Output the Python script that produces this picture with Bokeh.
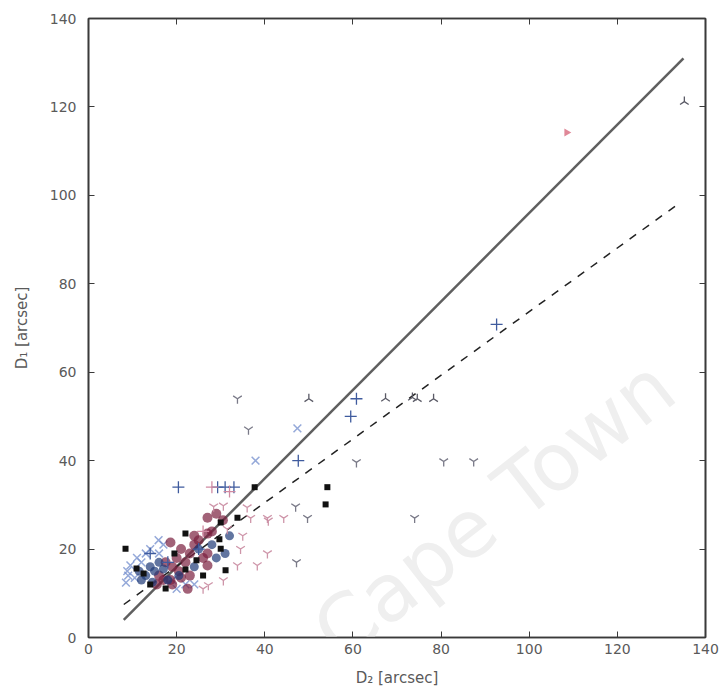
import math
from bokeh.plotting import figure
from bokeh.models import LinearAxis, Range1d, FixedTicker, Label
from bokeh.embed import file_html
from bokeh.resources import INLINE

# ---------------- data ----------------
black_x = [8.4, 10.9, 17.5, 30.0, 29.7, 30.0, 31.1, 33.8, 37.7, 54.2, 53.8, 22.0, 22.0, 14.0, 19.5, 26.0, 12.5, 24.5]
black_y = [20.1, 15.6, 11.1, 26.0, 22.2, 20.1, 15.2, 27.1, 34.0, 34.0, 30.1, 23.5, 15.4, 12.0, 19.0, 14.0, 14.5, 17.5]

maroon_x = [27.0, 27.0, 27.0, 27.0, 18.6, 18.6, 19.0, 21.0, 22.0, 23.0, 24.0, 25.0, 20.0, 17.0, 16.0, 15.5, 19.0, 21.0, 23.0, 26.0, 28.0, 20.5, 22.5, 17.5, 24.0, 29.0, 30.5]
maroon_y = [27.1, 23.5, 19.0, 16.3, 21.5, 13.0, 12.0, 13.5, 17.0, 19.0, 21.0, 22.0, 18.0, 13.0, 14.0, 12.0, 16.0, 20.0, 14.0, 18.0, 24.0, 15.0, 11.0, 17.0, 23.0, 28.0, 26.5]

navy_x = [13.0, 14.0, 15.0, 16.0, 12.0, 18.0, 25.0, 28.0, 31.0, 32.0, 29.0, 24.0, 14.5, 17.0, 11.5, 20.5]
navy_y = [14.0, 16.0, 15.0, 17.0, 13.0, 13.0, 20.0, 21.0, 19.0, 23.0, 18.0, 16.0, 12.5, 15.5, 15.0, 14.0]

xmark_x = [8.5, 9.0, 9.5, 8.8, 15.9, 17.0, 13.0, 12.0, 14.0, 16.0, 19.0, 20.0, 22.0, 37.9, 47.4, 24.0, 10.5, 11.0]
xmark_y = [12.4, 14.0, 16.3, 15.0, 22.0, 21.0, 19.0, 17.0, 20.0, 19.0, 13.0, 11.0, 12.0, 40.0, 47.3, 12.0, 13.5, 18.0]

plus_x = [20.4, 29.3, 31.0, 33.0, 47.6, 59.5, 60.8, 92.6, 14.0, 25.0, 18.0]
plus_y = [34.0, 34.0, 34.0, 34.0, 40.0, 50.0, 54.0, 70.8, 19.0, 20.0, 17.0]

pinkplus_x = [28.0, 32.0, 26.0]
pinkplus_y = [34.0, 33.0, 24.0]

pinktri_x = [34.5, 40.8, 40.6, 27.2, 30.6, 33.8, 38.3, 30.6, 28.4, 36.8, 40.6, 44.3, 36.0, 26.0, 35.0, 31.5]
pinktri_y = [20.0, 26.4, 19.0, 11.8, 12.9, 16.3, 16.3, 29.8, 29.6, 27.0, 27.0, 27.0, 29.4, 11.0, 23.0, 24.5]

graydown_x = [33.8, 36.3, 80.6, 87.4, 60.8, 74.0, 47.0, 47.2, 49.7]
graydown_y = [54.0, 47.0, 39.8, 39.8, 39.6, 27.0, 29.6, 17.0, 27.0]

grayup_x = [50.0, 67.4, 73.5, 74.6, 78.3, 135.2]
grayup_y = [54.0, 54.1, 54.3, 54.0, 54.0, 121.2]

redtri_x = [108.5]
redtri_y = [114.2]

solid_x = [8.0, 135.0]
solid_coef = [1.0, -4.0]
dashed_x = [8.0, 133.5]
dashed_coef = [0.72, 1.7]

ticks = [0, 20, 40, 60, 80, 100, 120, 140]

# ---------------- figure ----------------
p = figure(width=724, height=696, output_backend="svg", toolbar_location=None,
           x_range=Range1d(0, 140), y_range=Range1d(0, 140),
           min_border_left=88, min_border_right=19, min_border_top=18, min_border_bottom=59)
p.background_fill_color = "white"
p.border_fill_color = "white"
p.grid.visible = False
p.outline_line_color = "#3a3a3a"
p.outline_line_width = 1.6

for ax in (p.xaxis[0], p.yaxis[0]):
    ax.ticker = FixedTicker(ticks=ticks)
    ax.axis_line_color = "#3a3a3a"
    ax.axis_line_width = 1.6
    ax.major_tick_in = 6
    ax.major_tick_out = 0
    ax.major_tick_line_color = "#3a3a3a"
    ax.minor_tick_line_color = None
    ax.major_label_text_font = "DejaVu Sans"
    ax.major_label_text_font_size = "14px"
    ax.major_label_text_color = "#5a5a5a"
    ax.axis_label_text_font = "DejaVu Sans"
    ax.axis_label_text_font_size = "15px"
    ax.axis_label_text_font_style = "normal"
    ax.axis_label_text_color = "#5a5a5a"

p.xaxis[0].axis_label = "D\u2082 [arcsec]"
p.yaxis[0].axis_label = "D\u2081 [arcsec]"
p.xaxis[0].major_label_standoff = 6
p.yaxis[0].major_label_standoff = 12
p.xaxis[0].axis_label_standoff = 12
p.yaxis[0].axis_label_standoff = 16

for loc in ("above", "right"):
    ax = LinearAxis(ticker=FixedTicker(ticks=ticks))
    ax.major_label_overrides = {t: "" for t in ticks}
    ax.major_label_standoff = 0
    ax.major_label_text_font_size = "10px"
    ax.major_tick_in = 6
    ax.major_tick_out = 0
    ax.major_tick_line_color = "#3a3a3a"
    ax.minor_tick_line_color = None
    ax.axis_line_color = "#3a3a3a"
    ax.axis_line_width = 1.6
    p.add_layout(ax, loc)

# faint watermark
p.add_layout(Label(x=53.5, y=-1.0, text="Cape Town", angle=38, angle_units="deg",
                   text_font="DejaVu Sans", text_font_size="80px",
                   text_baseline="alphabetic",
                   text_color="#efefef", level="underlay"))

# lines
p.line(solid_x, [solid_coef[0] * v + solid_coef[1] for v in solid_x],
       line_color="#5f5f5f", line_width=2.5)
p.line(dashed_x, [dashed_coef[0] * v + dashed_coef[1] for v in dashed_x],
       line_color="#222222", line_width=1.5, line_dash="8 8")

# points
p.scatter(xmark_x, xmark_y, marker="x", size=11, line_color="#7b93cf", line_alpha=0.8, line_width=1.5)
p.scatter(maroon_x, maroon_y, marker="circle", size=10, fill_color="#7a1f3f", line_color=None, fill_alpha=0.7)
p.scatter(navy_x, navy_y, marker="circle", size=9, fill_color="#1f3a78", line_color=None, fill_alpha=0.7)
p.scatter(pinktri_x, pinktri_y, marker="y", size=10, line_color="#c98aa0", line_width=1.3, line_alpha=0.9)
p.scatter(graydown_x, graydown_y, marker="y", size=10, line_color="#7a7a88", line_width=1.3)
p.scatter(grayup_x, grayup_y, marker="y", angle=math.pi, size=10, line_color="#5a5a66", line_width=1.3)
p.scatter(plus_x, plus_y, marker="cross", size=12, line_color="#3f5b9e", line_width=1.3)
p.scatter(pinkplus_x, pinkplus_y, marker="cross", size=12, line_color="#d08aa2", line_width=1.3)
p.scatter(black_x, black_y, marker="square", size=6, fill_color="#111111", line_color=None)
p.scatter(redtri_x, redtri_y, marker="triangle", angle=-math.pi / 2, size=8, fill_color="#e08898", line_color=None)

open("out.html", "w").write(file_html(p, INLINE))
